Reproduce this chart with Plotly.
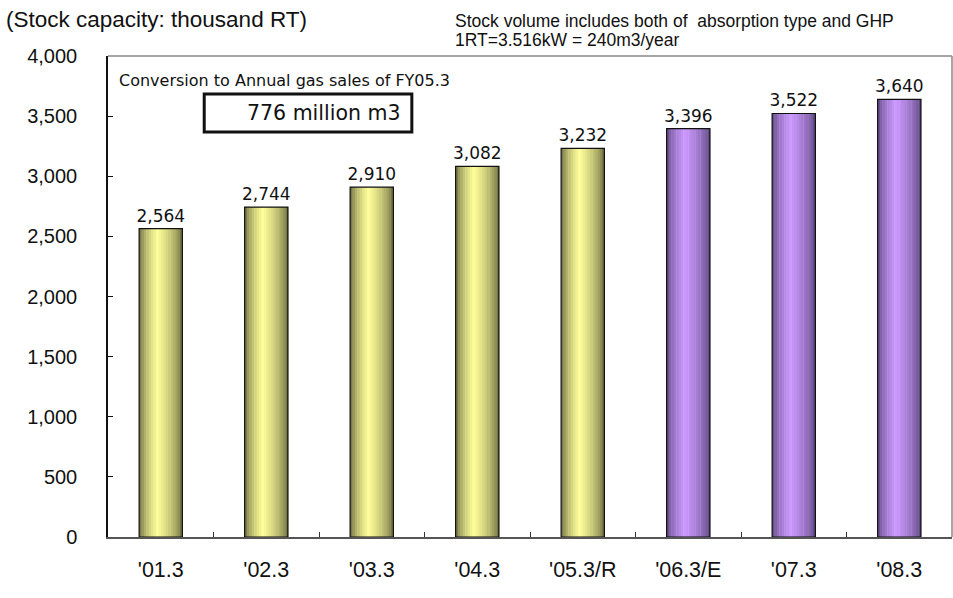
import plotly.graph_objects as go

categories = ["'01.3", "'02.3", "'03.3", "'04.3", "'05.3/R", "'06.3/E", "'07.3", "'08.3"]
values = [2564, 2744, 2910, 3082, 3232, 3396, 3522, 3640]
kinds = ["actual", "actual", "actual", "actual", "actual", "plan", "plan", "plan"]
y_ticks = [0, 500, 1000, 1500, 2000, 2500, 3000, 3500, 4000]

PAL = {
    "actual": {"edge": (84, 84, 48), "mid": (255, 255, 153)},
    "plan": {"edge": (76, 58, 108), "mid": (204, 153, 255)},
}

BAR_W = 0.41
N = 18
PEAK = 0.42


def shade(kind, s):
    e, m = PAL[kind]["edge"], PAL[kind]["mid"]
    if s <= PEAK:
        b = s / PEAK
    else:
        b = 1 - (s - PEAK) / (1 - PEAK)
    b = max(0.0, min(1.0, b)) ** 0.55
    c = [round(e[k] + (m[k] - e[k]) * b) for k in range(3)]
    return "rgb(%d,%d,%d)" % tuple(c)


fig = go.Figure()
sw = BAR_W / N
for i in range(N):
    s = (i + 0.5) / N
    fig.add_trace(go.Bar(
        x=categories, y=values,
        width=[sw * 1.15] * len(values),
        offset=[-BAR_W / 2 + i * sw] * len(values),
        marker=dict(color=[shade(k, s) for k in kinds], line=dict(width=0)),
        showlegend=False, hoverinfo="skip",
    ))

fig.add_trace(go.Bar(
    x=categories, y=values,
    width=[BAR_W] * len(values),
    offset=[-BAR_W / 2] * len(values),
    marker=dict(color="rgba(0,0,0,0)", line=dict(color="#111", width=1.2)),
    text=[f"{v:,}" for v in values], textposition="outside", constraintext="none",
    textfont=dict(family="DejaVu Sans", size=17, color="#111"),
    cliponaxis=False, showlegend=False,
))

fig.update_layout(
    width=953, height=598,
    margin=dict(l=108, r=1, t=56, b=61),
    barmode="overlay",
    paper_bgcolor="white", plot_bgcolor="white",
    font=dict(family="DejaVu Sans", color="#111"),
    xaxis=dict(
        type="category", showgrid=False, showline=True, linecolor="#555", linewidth=2,
        ticks="inside", tickson="boundaries", ticklen=5, tickcolor="#333",
        tickfont=dict(family="Liberation Sans", size=21.5),
        ticklabelstandoff=12,
    ),
    yaxis=dict(
        range=[0, 4000], tickvals=y_ticks, tickformat=",",
        showgrid=False, showline=True, linecolor="#111", linewidth=1.5,
        ticks="inside", ticklen=5, tickcolor="#111",
        tickfont=dict(family="Liberation Sans", size=20),
        ticklabelstandoff=25, zeroline=False,
    ),
    shapes=[
        dict(type="line", xref="paper", yref="paper", x0=0, x1=1, y0=1, y1=1,
             line=dict(color="#888", width=1.5)),
        dict(type="line", xref="paper", yref="paper", x0=1, x1=1, y0=0, y1=1,
             line=dict(color="#888", width=1.5)),
        dict(type="rect", xref="paper", yref="paper", x0=0.114, x1=0.360, y0=0.842, y1=0.921,
             line=dict(color="#111", width=3), fillcolor="white"),
    ],
    annotations=[
        dict(text="(Stock capacity: thousand RT)", xref="paper", yref="paper",
             x=-0.123, y=1.075, xanchor="left", yanchor="middle", showarrow=False,
             font=dict(family="Liberation Sans", size=22.5)),
        dict(text="Stock volume includes both of  absorption type and GHP", xref="paper", yref="paper",
             x=0.409, y=1.073, xanchor="left", yanchor="middle", showarrow=False,
             font=dict(family="Liberation Sans", size=17.5)),
        dict(text="1RT=3.516kW = 240m3/year", xref="paper", yref="paper",
             x=0.409, y=1.034, xanchor="left", yanchor="middle", showarrow=False,
             font=dict(family="Liberation Sans", size=17.5)),
        dict(text="Conversion to Annual gas sales of FY05.3", xref="paper", yref="paper",
             x=0.0107, y=0.950, xanchor="left", yanchor="middle", showarrow=False,
             font=dict(family="DejaVu Sans", size=16)),
        dict(text="776 million m3", xref="paper", yref="paper",
             x=0.255, y=0.881, xanchor="center", yanchor="middle", showarrow=False,
             font=dict(family="DejaVu Sans", size=20.5)),
    ],
)

fig.write_html("out.html")
